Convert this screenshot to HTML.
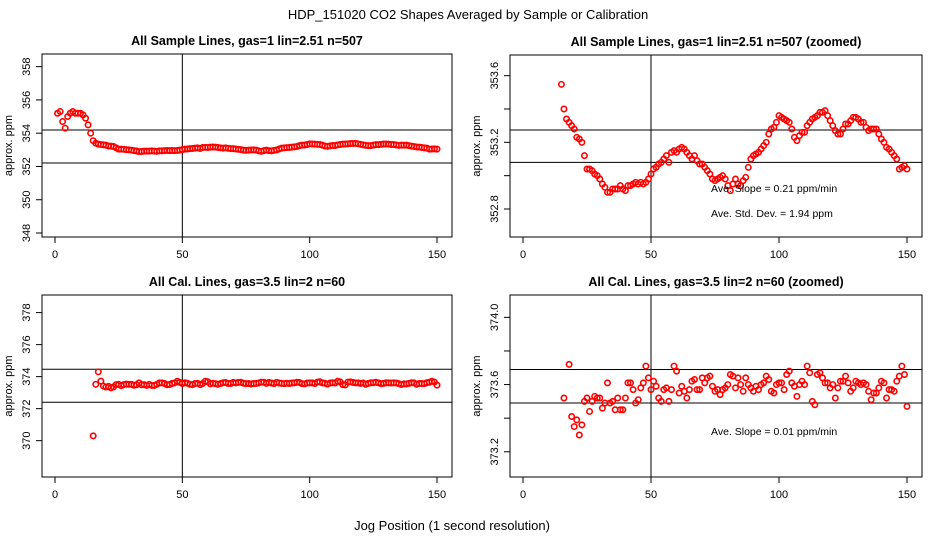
<!DOCTYPE html>
<html><head><meta charset="utf-8"><style>
html,body{margin:0;padding:0;background:#fff;width:936px;height:540px;overflow:hidden;}
svg{display:block;font-family:"Liberation Sans",sans-serif;}
</style></head><body>
<svg id="c" width="936" height="540" viewBox="0 0 936 540">
<text x="468" y="19" text-anchor="middle" font-size="13">HDP_151020  CO2 Shapes Averaged by Sample or Calibration</text>
<text x="452" y="530" text-anchor="middle" font-size="13">Jog Position (1 second resolution)</text>
</svg>
<script>
const sampleX = [];
for (let i = 1; i <= 150; i++) sampleX.push(i);
const sampleY = [355.2,355.3,354.7,354.3,355.0,355.2,355.3,355.2,355.2,355.2,355.1,354.9,354.5,354.0,
353.548,353.40,353.34,353.32,353.30,353.28,353.23,353.22,353.20,353.12,353.04,353.04,353.03,353.01,353.00,352.98,
352.95,352.93,352.90,352.90,352.92,352.92,352.92,352.94,352.92,352.91,352.94,352.94,352.95,352.96,352.95,352.96,352.95,352.96,352.98,353.01,
353.04,353.05,353.07,353.08,353.10,353.12,353.08,353.14,353.15,353.14,353.16,353.17,353.16,353.14,353.12,353.10,353.12,353.09,353.07,353.07,
353.05,353.03,353.01,352.98,352.97,352.98,352.99,353.00,352.98,352.94,352.91,352.95,352.98,352.95,352.94,352.97,352.99,353.05,353.10,353.12,
353.13,353.14,353.16,353.18,353.20,353.25,353.28,353.29,353.32,353.36,353.35,353.34,353.33,353.32,353.28,353.23,353.21,353.24,353.26,353.26,
353.30,353.32,353.34,353.35,353.36,353.38,353.38,353.39,353.36,353.33,353.30,353.27,353.25,353.25,353.28,353.31,353.31,353.33,353.35,353.35,
353.34,353.32,353.32,353.29,353.27,353.28,353.28,353.28,353.25,353.22,353.20,353.17,353.16,353.14,353.12,353.10,353.04,353.05,353.06,353.04];
const calX = [];
for (let i = 15; i <= 150; i++) calX.push(i);
const calY = [370.3,373.52,374.3,373.72,373.41,373.35,373.39,373.30,373.36,373.50,373.52,373.44,373.50,373.53,373.52,373.52,
373.46,373.49,373.61,373.49,373.50,373.45,373.52,373.45,373.45,373.52,373.61,373.61,373.57,373.49,373.51,373.58,373.61,373.71,373.64,373.57,
373.62,373.59,373.52,373.50,373.57,373.58,373.50,373.57,373.71,373.68,373.55,373.59,373.56,373.52,373.57,373.62,373.63,373.57,373.57,373.64,
373.61,373.64,373.65,373.59,373.56,373.57,373.54,373.57,373.58,373.60,373.66,373.65,373.58,373.64,373.60,373.56,373.64,373.60,373.58,373.56,
373.59,373.57,373.60,373.61,373.65,373.63,373.56,373.55,373.60,373.61,373.61,373.57,373.66,373.68,373.61,373.59,373.53,373.60,373.62,373.60,
373.71,373.67,373.50,373.48,373.66,373.67,373.64,373.61,373.61,373.58,373.60,373.52,373.58,373.62,373.62,373.65,373.61,373.56,373.58,373.62,
373.61,373.60,373.61,373.60,373.56,373.51,373.55,373.55,373.58,373.62,373.61,373.52,373.57,373.57,373.56,373.62,373.65,373.71,373.66,373.47,373.53];
const xTicks = [0,50,100,150];

const NS = "http://www.w3.org/2000/svg";
const svg = document.getElementById('c');
function mk(tag, attrs, parent) {
  const e = document.createElementNS(NS, tag);
  for (const k in attrs) e.setAttribute(k, attrs[k]);
  (parent || svg).appendChild(e);
  return e;
}
const panels = [
  {id:'p1', title:'All Sample Lines, gas=1 lin=2.51 n=507', box:[42,54,452,237], x0:55, x1:437, ymin:347.76, ymax:358.76,
   ticks:[348,350,352,354,356,358], labels:[348,350,352,354,356,358], dec:0, hl:[352.21,354.19], xs:sampleX, ys:sampleY, notes:[]},
  {id:'p2', title:'All Sample Lines, gas=1 lin=2.51 n=507 (zoomed)', box:[510,55,922,237], x0:523, x1:907, ymin:352.632, ymax:353.724,
   ticks:[352.8,353.0,353.2,353.4,353.6], labels:[352.8,353.2,353.6], dec:1, hl:[353.08,353.274], xs:sampleX, ys:sampleY,
   notes:[['Ave. Slope =  0.21  ppm/min',188],['Ave. Std. Dev. =  1.94  ppm',213]]},
  {id:'p3', title:'All Cal. Lines, gas=3.5 lin=2 n=60', box:[42,295,452,477], x0:55, x1:437, ymin:367.73, ymax:379.1,
   ticks:[370,372,374,376,378], labels:[370,372,374,376,378], dec:0, hl:[372.4,374.46], xs:calX, ys:calY, notes:[]},
  {id:'p4', title:'All Cal. Lines, gas=3.5 lin=2 n=60 (zoomed)', box:[510,295,922,477], x0:523, x1:907, ymin:373.05, ymax:374.133,
   ticks:[373.2,373.4,373.6,373.8,374.0], labels:[373.2,373.6,374.0], dec:1, hl:[373.49,373.69], xs:calX, ys:calY,
   notes:[['Ave. Slope =  0.01  ppm/min',431]]}
];
panels.forEach((p, pi) => {
  const [L,T,R,B] = p.box;
  const sx = v => p.x0 + (v - 0) * (p.x1 - p.x0) / 150;
  const sy = v => B - (v - p.ymin) * (B - T) / (p.ymax - p.ymin);
  const g = mk('g', {});
  
  
  const t = mk('text', {x:(L+R)/2, y:T-9, 'text-anchor':'middle', 'font-size':12.5, 'font-weight':'bold'}, g);
  t.textContent = p.title;
  
  
  const yl = mk('text', {x:0, y:0, transform:`translate(${L-30},${(T+B)/2}) rotate(-90)`, 'text-anchor':'middle', 'font-size':11}, g);
  yl.textContent = 'approx. ppm';
  
  
  const cp = mk('clipPath', {id:'clip'+pi}, g);
  mk('rect', {x:L, y:T, width:R-L, height:B-T}, cp);
  xTicks.forEach(v => {
    const x = sx(v);
    const tk = mk('line', {x1:x, x2:x, y1:B, y2:B+6, stroke:'#000'}, g);
    
    
    const tl = mk('text', {x:x, y:B+21, 'text-anchor':'middle', 'font-size':11}, g);
    tl.textContent = v;
    
    
  });
  p.ticks.forEach(v => {
    const y = sy(v);
    const tk = mk('line', {x1:L-6, x2:L, y1:y, y2:y, stroke:'#000'}, g);
    
    
  });
  p.labels.forEach(v => {
    const y = sy(v);
    const tl = mk('text', {x:0, y:0, transform:`translate(${L-12},${y}) rotate(-90)`, 'text-anchor':'middle', 'font-size':11}, g);
    tl.textContent = v.toFixed(p.dec);
    
    
  });
  p.hl.forEach(v => {
    const y = sy(v);
    const hl = mk('line', {x1:L, x2:R, y1:y, y2:y, stroke:'#000'}, g);
    
    
  });
  const vl = mk('line', {x1:sx(50), x2:sx(50), y1:T, y2:B, stroke:'#000'}, g);
  
  
  const pg = mk('g', {'clip-path':`url(#clip${pi})`}, g);
  
  
  p.xs.forEach((xv, i) => {
    const c = mk('circle', {cx:sx(xv), cy:sy(p.ys[i]), r:2.7, fill:'none', stroke:'#ff0000', 'stroke-width':1.6}, pg);
    
    
  });
  p.notes.forEach(n => {
    const nt = mk('text', {x:711, y:n[1]+4, 'font-size':10.5}, g);
    nt.textContent = n[0];
    
    
  });
  const box = mk('rect', {x:L, y:T, width:R-L, height:B-T, fill:'none', stroke:'#000'}, g);
  
  
});
</script>
</body></html>
